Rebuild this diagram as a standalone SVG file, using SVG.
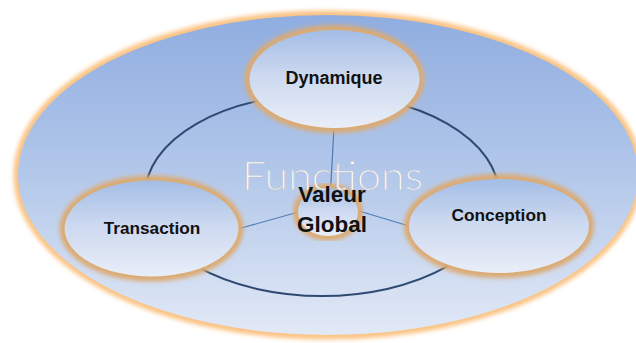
<svg xmlns="http://www.w3.org/2000/svg" width="636" height="343" viewBox="0 0 636 343">
<defs>
<linearGradient id="gOuter" x1="0" y1="0" x2="0" y2="1">
<stop offset="0" stop-color="#8fade0"/>
<stop offset="0.5" stop-color="#b3c8ea"/>
<stop offset="1" stop-color="#e2e9f6"/>
</linearGradient>
<linearGradient id="gNode" x1="0" y1="0" x2="0" y2="1">
<stop offset="0" stop-color="#a3bde6"/>
<stop offset="0.45" stop-color="#cbd8ef"/>
<stop offset="1" stop-color="#e9eef8"/>
</linearGradient>
<filter id="blur" x="-10%" y="-10%" width="120%" height="120%">
<feGaussianBlur stdDeviation="2"/>
</filter>
</defs>
<style>
.rim{fill:none;stroke:#fbc383;stroke-width:9;filter:url(#blur)}
.nrim{fill:none;stroke:#dcaa72;stroke-width:10;filter:url(#blur)}
.nfill{fill:url(#gNode)}
.lbl{font-family:"Liberation Sans",Arial,sans-serif;font-weight:bold;fill:#111;text-anchor:middle}
.ring{fill:none;stroke:#2f4a72;stroke-width:2}
.spoke{stroke:#4f7bb5;stroke-width:1.2}
</style>
<g id="outer">
<ellipse class="rim" cx="328" cy="175" rx="310" ry="160"/>
<ellipse cx="328" cy="175" rx="310" ry="160" fill="url(#gOuter)"/>
</g>
<g id="connectors">
<ellipse class="ring" cx="322" cy="195" rx="177" ry="101"/>
<line class="spoke" x1="334" y1="127" x2="330" y2="200"/>
<line class="spoke" x1="238" y1="229" x2="302" y2="211"/>
<line class="spoke" x1="359" y1="211" x2="409" y2="226"/>
</g>
<g id="node-dynamique">
<ellipse class="nrim" cx="334.5" cy="79" rx="85" ry="49"/>
<ellipse class="nfill" cx="334.5" cy="79" rx="85" ry="49"/>
<text class="lbl" x="334" y="84" font-size="18">Dynamique</text>
</g>
<g id="node-transaction">
<ellipse class="nrim" cx="151.5" cy="228.5" rx="87" ry="48"/>
<ellipse class="nfill" cx="151.5" cy="228.5" rx="87" ry="48"/>
<text class="lbl" x="152" y="234" font-size="17.2">Transaction</text>
</g>
<g id="node-conception">
<ellipse class="nrim" cx="499" cy="226" rx="90" ry="47"/>
<ellipse class="nfill" cx="499" cy="226" rx="90" ry="47"/>
<text class="lbl" x="499" y="221" font-size="17.3">Conception</text>
</g>
<g id="node-center">
<ellipse class="nrim" cx="328" cy="212" rx="30" ry="24"/>
<ellipse class="nfill" cx="328" cy="212" rx="30" ry="24"/>
</g>
<g id="title">
<text x="242" y="190" font-family="Lato,'Open Sans','Liberation Sans',sans-serif" font-weight="300" font-size="40" fill="#ffffff" stroke="#b9bfcc" stroke-width="0.6" textLength="181" lengthAdjust="spacingAndGlyphs">Functions</text>
</g>
<g id="center-label">
<text class="lbl" x="332" y="202" font-size="22.5">Valeur</text>
<text class="lbl" x="332" y="232" font-size="22.5">Global</text>
</g>
</svg>
